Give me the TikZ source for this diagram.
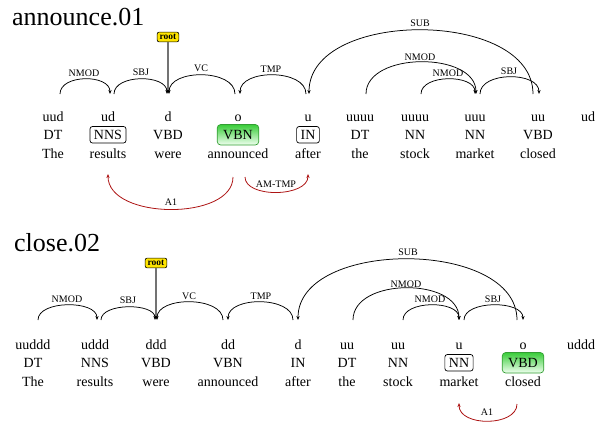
\documentclass[tikz,border=0pt]{standalone}
\usepackage{fontspec}
\setmainfont{Liberation Serif}
\usetikzlibrary{arrows.meta}
\definecolor{deparc}{rgb}{0,0,0}
\definecolor{srlred}{rgb}{0.68,0.08,0.08}
\definecolor{rootyellow}{rgb}{1,0.9,0}
\definecolor{greentop}{rgb}{0.22,0.80,0.22}
\definecolor{greenbot}{rgb}{0.94,1,0.94}
\definecolor{greenline}{rgb}{0.2,0.62,0.2}
\tikzset{
  wtext/.style={font=\fontsize{14}{16}\selectfont, anchor=base, inner sep=0pt},
  postag/.style={font=\fontsize{14}{16}\selectfont, anchor=base, inner sep=0pt, text height=9.5pt, text depth=1pt},
  posbox/.style={postag, draw, rounded corners=2.5pt, inner xsep=4pt, inner ysep=3pt, line width=0.7pt},
  predbox/.style={postag, draw=greenline, rounded corners=3.5pt, inner xsep=6pt, inner ysep=5pt, line width=0.7pt, top color=greentop, bottom color=greenbot},
  titletext/.style={font=\fontsize{26}{30}\selectfont, anchor=base west, inner sep=0pt},
  arclabel/.style={font=\fontsize{10}{12}\selectfont, inner sep=0.5pt},
  rootbox/.style={font=\fontsize{9.5}{10}\bfseries, draw, fill=rootyellow, rounded corners=2pt, inner xsep=2.5pt, inner ysep=2.2pt, line width=0.6pt},
  dep/.style={draw=deparc, line width=0.75pt, -{Stealth[length=4pt,width=3.2pt]}},
  srl/.style={draw=srlred, line width=0.8pt, -{Stealth[length=4pt,width=3.2pt]}},
  rootline/.style={draw=black!55, line width=1.3pt, -{Stealth[length=3.5pt,width=3.5pt,black]}}
}
\begin{document}
\begin{tikzpicture}[x=1pt,y=-1pt]
\useasboundingbox (0,0) rectangle (603,423);
% ================= diagram 1 =================
\node[titletext] (t1) at (12,25) {announce.01};
% top row
\node[wtext] (a1) at (53,121.5) {uud};
\node[wtext] (a2) at (108,121.5) {ud};
\node[wtext] (a3) at (168,121.5) {d};
\node[wtext] (a4) at (238,121.5) {o};
\node[wtext] (a5) at (308,121.5) {u};
\node[wtext] (a6) at (360,121.5) {uuuu};
\node[wtext] (a7) at (415,121.5) {uuuu};
\node[wtext] (a8) at (475,121.5) {uuu};
\node[wtext] (a9) at (538,121.5) {uu};
\node[wtext] (a10) at (588,121.5) {ud};
% POS row
\node[postag] (b1) at (53,139) {DT};
\node[posbox] (b2) at (108,139) {NNS};
\node[postag] (b3) at (168,139) {VBD};
\node[predbox] (b4) at (238,139) {VBN};
\node[posbox] (b5) at (308,139) {IN};
\node[postag] (b6) at (360,139) {DT};
\node[postag] (b7) at (415,139) {NN};
\node[postag] (b8) at (475,139) {NN};
\node[postag] (b9) at (538,139) {VBD};
% words
\node[wtext] (c1) at (53,158) {The};
\node[wtext] (c2) at (108,158) {results};
\node[wtext] (c3) at (168,158) {were};
\node[wtext] (c4) at (238,158) {announced};
\node[wtext] (c5) at (308,158) {after};
\node[wtext] (c6) at (360,158) {the};
\node[wtext] (c7) at (415,158) {stock};
\node[wtext] (c8) at (475,158) {market};
\node[wtext] (c9) at (538,158) {closed};
% arc endpoints
\coordinate (p1s) at (60,94);   \coordinate (p1e) at (110,94);
\coordinate (p2s) at (114,94);  \coordinate (p2e) at (167,94);
\coordinate (p3s) at (235,94);  \coordinate (p3e) at (169,94);
\coordinate (p4s) at (306,94);  \coordinate (p4e) at (240,94);
\coordinate (p5s) at (533,94);  \coordinate (p5e) at (309,94);
\coordinate (p6s) at (366,94);  \coordinate (p6e) at (476,94);
\coordinate (p7s) at (421,94);  \coordinate (p7e) at (475,94);
\coordinate (p8s) at (480,94);  \coordinate (p8e) at (539,94);
\node[rootbox] (r1) at (168,37) {root};
\draw[rootline] (r1.south) -- (168,93);
\draw[dep] (p1s) .. controls +(0,-20) and +(0,-20) .. (p1e);
\draw[dep] (p2s) .. controls +(0,-20) and +(0,-20) .. (p2e);
\draw[dep] (p3s) .. controls +(0,-25.3) and +(0,-25.3) .. (p3e);
\draw[dep] (p4s) .. controls +(0,-25.3) and +(0,-25.3) .. (p4e);
\draw[dep] (p5s) .. controls +(0,-85.3) and +(0,-85.3) .. (p5e);
\draw[dep] (p6s) .. controls +(0,-42.7) and +(0,-42.7) .. (p6e);
\draw[dep] (p7s) .. controls +(0,-20) and +(0,-20) .. (p7e);
\draw[dep] (p8s) .. controls +(0,-22.7) and +(0,-22.7) .. (p8e);
\node[arclabel] (l1) at (84,73) {NMOD};
\node[arclabel] (l2) at (141,72.5) {SBJ};
\node[arclabel] (l3) at (201,68) {VC};
\node[arclabel] (l4) at (271,69) {TMP};
\node[arclabel] (l5) at (420,23) {SUB};
\node[arclabel] (l6) at (420,57) {NMOD};
\node[arclabel] (l7) at (448,73) {NMOD};
\node[arclabel] (l8) at (509,71) {SBJ};
% SRL arcs
\coordinate (q1s) at (233,177); \coordinate (q1e) at (108,174);
\coordinate (q2s) at (245,177); \coordinate (q2e) at (308,174);
\draw[srl] (q1s) .. controls +(0,44) and +(0,46) .. (q1e);
\draw[srl] (q2s) .. controls +(0,21.3) and +(0,23.3) .. (q2e);
\node[arclabel] (m1) at (171,202) {A1};
\node[arclabel] (m2) at (276,184) {AM-TMP};
% ================= diagram 2 =================
\node[titletext] (t2) at (14,251.7) {close.02};
\node[wtext] (d1) at (33,349.5) {uuddd};
\node[wtext] (d2) at (95,349.5) {uddd};
\node[wtext] (d3) at (156,349.5) {ddd};
\node[wtext] (d4) at (228,349.5) {dd};
\node[wtext] (d5) at (298,349.5) {d};
\node[wtext] (d6) at (347,349.5) {uu};
\node[wtext] (d7) at (398,349.5) {uu};
\node[wtext] (d8) at (459,349.5) {u};
\node[wtext] (d9) at (523,349.5) {o};
\node[wtext] (d10) at (581,349.5) {uddd};
\node[postag] (e1) at (33,367) {DT};
\node[postag] (e2) at (95,367) {NNS};
\node[postag] (e3) at (156,367) {VBD};
\node[postag] (e4) at (228,367) {VBN};
\node[postag] (e5) at (298,367) {IN};
\node[postag] (e6) at (347,367) {DT};
\node[postag] (e7) at (398,367) {NN};
\node[posbox] (e8) at (459,367) {NN};
\node[predbox] (e9) at (523,367) {VBD};
\node[wtext] (f1) at (33,386) {The};
\node[wtext] (f2) at (95,386) {results};
\node[wtext] (f3) at (156,386) {were};
\node[wtext] (f4) at (228,386) {announced};
\node[wtext] (f5) at (298,386) {after};
\node[wtext] (f6) at (347,386) {the};
\node[wtext] (f7) at (398,386) {stock};
\node[wtext] (f8) at (459,386) {market};
\node[wtext] (f9) at (523,386) {closed};
\coordinate (s1s) at (38,320);  \coordinate (s1e) at (97,320);
\coordinate (s2s) at (101,320); \coordinate (s2e) at (155,320);
\coordinate (s3s) at (223,320); \coordinate (s3e) at (157,320);
\coordinate (s4s) at (293,320); \coordinate (s4e) at (228,320);
\coordinate (s5s) at (517,320); \coordinate (s5e) at (298,320);
\coordinate (s6s) at (353,320); \coordinate (s6e) at (459,320);
\coordinate (s7s) at (403,320); \coordinate (s7e) at (459,320);
\coordinate (s8s) at (464,320); \coordinate (s8e) at (523,320);
\node[rootbox] (r2) at (156,263) {root};
\draw[rootline] (r2.south) -- (156,319);
\draw[dep] (s1s) .. controls +(0,-20) and +(0,-20) .. (s1e);
\draw[dep] (s2s) .. controls +(0,-17.3) and +(0,-17.3) .. (s2e);
\draw[dep] (s3s) .. controls +(0,-24) and +(0,-24) .. (s3e);
\draw[dep] (s4s) .. controls +(0,-24) and +(0,-24) .. (s4e);
\draw[dep] (s5s) .. controls +(0,-81.3) and +(0,-81.3) .. (s5e);
\draw[dep] (s6s) .. controls +(0,-42.7) and +(0,-42.7) .. (s6e);
\draw[dep] (s7s) .. controls +(0,-20) and +(0,-20) .. (s7e);
\draw[dep] (s8s) .. controls +(0,-20) and +(0,-20) .. (s8e);
\node[arclabel] (k1) at (67,299) {NMOD};
\node[arclabel] (k2) at (128,300) {SBJ};
\node[arclabel] (k3) at (189,296) {VC};
\node[arclabel] (k4) at (261,296) {TMP};
\node[arclabel] (k5) at (408,252) {SUB};
\node[arclabel] (k6) at (406,284) {NMOD};
\node[arclabel] (k7) at (430,299) {NMOD};
\node[arclabel] (k8) at (493,299) {SBJ};
\coordinate (u1s) at (517,404); \coordinate (u1e) at (459,403);
\draw[srl] (u1s) .. controls +(0,22.7) and +(0,24) .. (u1e);
\node[arclabel] (n1) at (487,412) {A1};
\end{tikzpicture}
\end{document}
